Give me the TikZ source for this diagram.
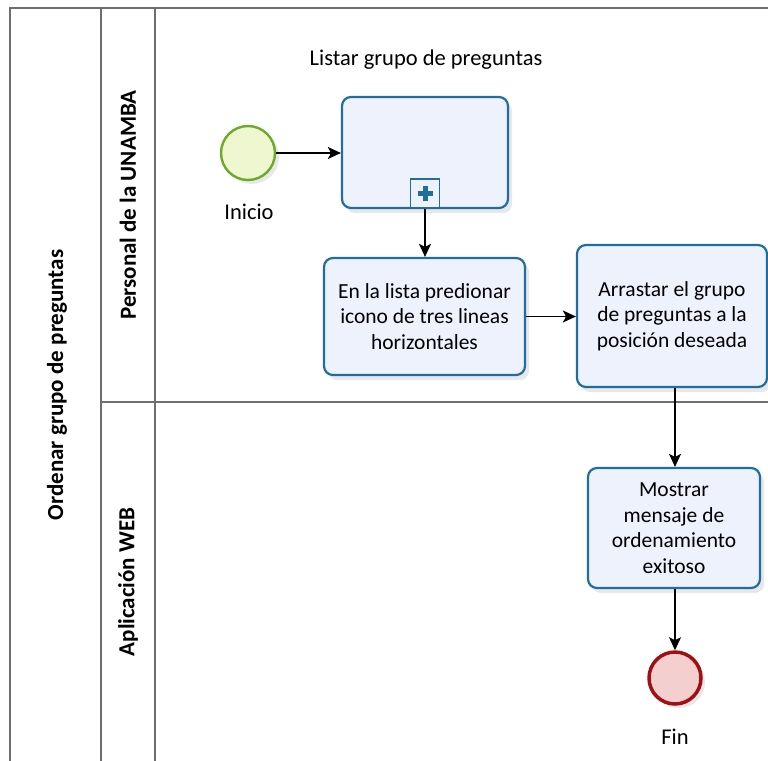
\documentclass[tikz,border=0pt]{standalone}
\usepackage{fontspec}
\setmainfont{Carlito}
\usetikzlibrary{arrows.meta,shadows,calc}
\definecolor{taskborder}{HTML}{1F6E9E}
\definecolor{taskfill}{HTML}{EEF2FC}
\definecolor{startborder}{HTML}{6DAA2C}
\definecolor{startfill}{HTML}{EEF7CF}
\definecolor{endborder}{HTML}{A00F14}
\definecolor{endfill}{HTML}{F4CFCF}
\definecolor{laneline}{HTML}{6E6E6E}
\tikzset{
  task/.style={draw=taskborder, line width=2.2pt, rounded corners=9pt, fill=taskfill,
    align=center, font=\fontsize{21.5}{25.5}\selectfont, inner sep=0pt,
    drop shadow={shadow xshift=4pt, shadow yshift=-5pt, opacity=0.18}},
  startev/.style={circle, draw=startborder, line width=2.4pt, fill=startfill, minimum size=54pt, inner sep=0pt,
    drop shadow={shadow xshift=4pt, shadow yshift=-4pt, opacity=0.18}},
  endev/.style={circle, draw=endborder, line width=3.5pt, fill=endfill, minimum size=52pt, inner sep=0pt,
    drop shadow={shadow xshift=4pt, shadow yshift=-4pt, opacity=0.18}},
  flow/.style={-{Stealth[length=13pt,width=12pt,inset=3pt]}, line width=1.3pt, black},
  lbl/.style={font=\fontsize{22.5}{26}\selectfont},
  lanelbl/.style={font=\bfseries\fontsize{23}{26}\selectfont, rotate=90},
  pool/.style={draw=laneline, line width=1.2pt}
}
\begin{document}
\begin{tikzpicture}[x=1pt,y=-1pt]
\useasboundingbox (0,0) rectangle (768,760);
\fill[white] (0,0) rectangle (768,760);
% pool and lanes
\draw[pool] (10,770) -- (10,8) -- (775,8);
\draw[pool] (101,8) -- (101,770);
\draw[pool] (155,8) -- (155,770);
\draw[pool] (101,402) -- (775,402);
\node[lanelbl] (poollbl) at (57,385) {Ordenar grupo de preguntas};
\node[lanelbl] (lane1) at (128,205) {Personal de la UNAMBA};
\node[lanelbl] (lane2) at (128,582) {Aplicación WEB};
% events
\node[startev] (start) at (248,153) {};
\node[lbl] (startlbl) at (249,212) {Inicio};
\node[endev] (fin) at (675,678) {};
\node[lbl] (finlbl) at (675,737) {Fin};
% subprocess
\node[task, minimum width=166pt, minimum height=111pt] (sub) at (425,152.5) {};
\node[draw=taskborder, line width=1.8pt, fill=taskfill, minimum size=29pt, inner sep=0pt, anchor=south] (plus) at (sub.south) {};
\fill[taskborder] ($(plus.center)+(-7.5,-2.5)$) rectangle ($(plus.center)+(7.5,2.5)$);
\fill[taskborder] ($(plus.center)+(-2.5,-7.5)$) rectangle ($(plus.center)+(2.5,7.5)$);
\node[lbl] (sublbl) at (426,60) {Listar grupo de preguntas};
% tasks
\node[task, minimum width=201pt, minimum height=117pt] (t1) at (424.5,316.5) {En la lista predionar\\icono de tres lineas\\horizontales};
\node[task, minimum width=190pt, minimum height=142pt] (t2) at (672,316) {Arrastar el grupo\\de preguntas a la\\posición deseada};
\node[task, minimum width=172pt, minimum height=120pt] (t3) at (674,528) {Mostrar\\mensaje de\\ordenamiento\\exitoso};
% flows
\draw[flow] (start.east) -- (sub.west |- start.east);
\draw[flow] (sub.south) -- (sub.south |- t1.north);
\draw[flow] (t1.east) -- (t2.west |- t1.east);
\draw[flow] (t2.south -| fin.north) -- (t3.north -| fin.north);
\draw[flow] (t3.south -| fin.north) -- (fin.north);
\end{tikzpicture}
\end{document}
